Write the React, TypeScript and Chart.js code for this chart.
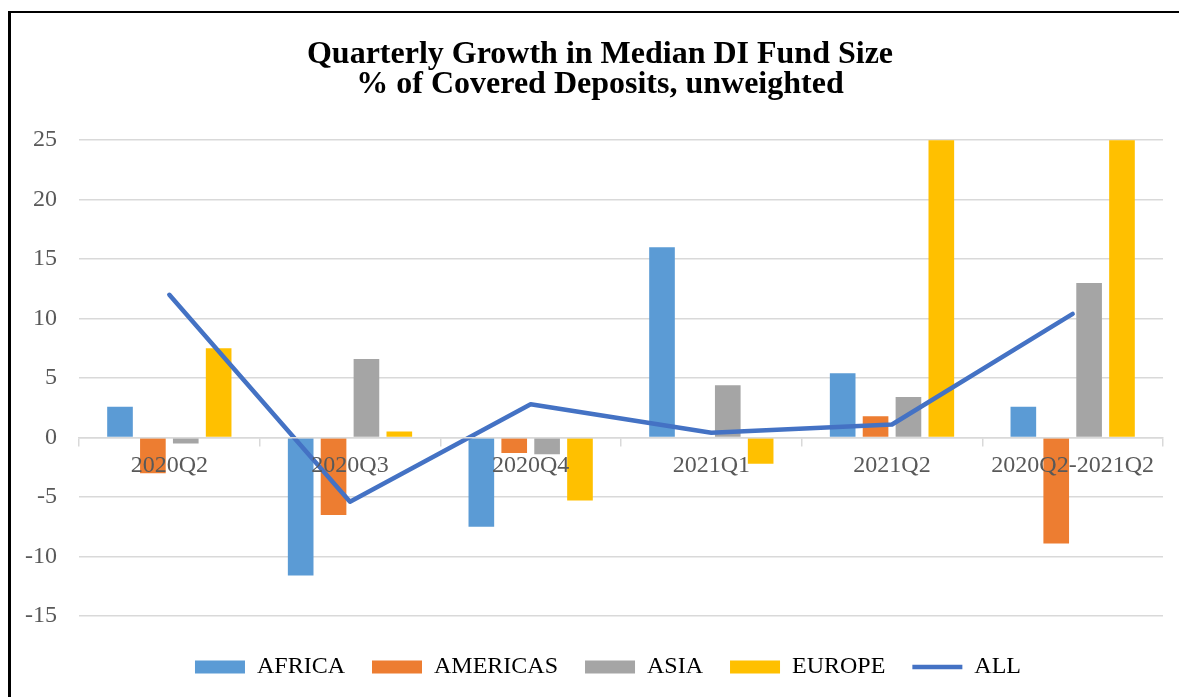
import React, { useEffect, useRef } from "react";
import { Chart, registerables } from "chart.js";

Chart.register(...registerables);

const categories = ["2020Q2", "2020Q3", "2020Q4", "2021Q1", "2021Q2", "2020Q2-2021Q2"];
const africa = [2.6, -11.6, -7.5, 16.0, 5.4, 2.6];
const americas = [-3.0, -6.5, -1.3, 0, 1.8, -8.9];
const asia = [-0.5, 6.6, -1.4, 4.4, 3.4, 13.0];
const europe = [7.5, 0.5, -5.3, -2.2, 31.0, 38.0];
const all = [12.0, -5.4, 2.8, 0.4, 1.1, 10.4];
const yTicks = [-15, -10, -5, 0, 5, 10, 15, 20, 25];
const titleLines = ["Quarterly Growth in Median DI Fund Size", "% of Covered Deposits, unweighted"];

const SERIF = "'Liberation Serif', 'Times New Roman', serif";
const Y_TICK_PAD = 22;

const shiftBoxes = {
  id: "shiftBoxes",
  afterLayout(chart: any) {
    if (chart.titleBlock) {
      chart.titleBlock.left += 6;
      chart.titleBlock.right += 6;
    }
    if (chart.legend) {
      chart.legend.left += 14;
      chart.legend.right += 14;
    }
  },
};

export default function App() {
  const ref = useRef<HTMLCanvasElement | null>(null);

  useEffect(() => {
    if (!ref.current) return;
    const barDs = (label: string, data: number[], color: string) => ({
      type: "bar" as const,
      label,
      data,
      backgroundColor: color,
      borderWidth: 0,
      pointStyle: "rect",
      order: 1,
      clip: 0,
    });
    const chart = new Chart(ref.current, {
      type: "bar",
      plugins: [shiftBoxes],
      data: {
        labels: categories,
        datasets: [
          barDs("AFRICA", africa, "#5B9BD5"),
          barDs("AMERICAS", americas, "#ED7D31"),
          barDs("ASIA", asia, "#A5A5A5"),
          barDs("EUROPE", europe, "#FFC000"),
          {
            type: "line" as const,
            label: "ALL",
            data: all,
            borderColor: "#4472C4",
            backgroundColor: "#4472C4",
            borderWidth: 4.5,
            borderCapStyle: "round",
            borderJoinStyle: "round",
            pointRadius: 0,
            pointHoverRadius: 0,
            pointStyle: "line",
            tension: 0,
            order: 0,
          } as any,
        ],
      },
      options: {
        animation: false,
        responsive: true,
        maintainAspectRatio: false,
        layout: { autoPadding: false, padding: { left: 14, right: 16, top: 0, bottom: 8 } },
        datasets: {
          bar: { categoryPercentage: 0.728, barPercentage: 0.78 },
        },
        scales: {
          x: {
            type: "category",
            position: { y: 0 } as any,
            grid: {
              offset: true,
              drawOnChartArea: false,
              drawTicks: true,
              tickLength: 8,
              color: "#d9d9d9",
              lineWidth: 1.5,
              z: 1,
            },
            border: { display: true, color: "#d9d9d9", width: 1.5, z: 1 },
            ticks: {
              autoSkip: false,
              maxRotation: 0,
              minRotation: 0,
              padding: 6,
              color: "#595959",
              font: { family: SERIF, size: 24 },
              z: 1,
            },
          },
          y: {
            type: "linear",
            min: -15,
            max: 25,
            afterBuildTicks: (axis: any) => {
              axis.ticks = yTicks.map((v) => ({ value: v }));
            },
            afterFit: (axis: any) => {
              axis.width = axis.width - Y_TICK_PAD;
            },
            grid: { color: "#d9d9d9", lineWidth: 1.5, drawTicks: false },
            border: { display: false },
            ticks: {
              padding: Y_TICK_PAD,
              color: "#595959",
              font: { family: SERIF, size: 24 },
            },
          },
        },
        plugins: {
          tooltip: { enabled: false },
          title: {
            display: true,
            text: titleLines,
            color: "#000",
            font: { family: SERIF, size: 32, weight: "bold", lineHeight: 0.94 },
            padding: { top: 27, bottom: 40 },
          },
          legend: {
            display: true,
            position: "bottom",
            title: { display: true, text: "", font: { size: 1, lineHeight: 1 }, padding: { top: 6, bottom: 5 } },
            labels: {
              usePointStyle: true,
              pointStyleWidth: 50,
              boxHeight: 13,
              padding: 27,
              color: "#000",
              font: { family: SERIF, size: 24 },
              sort: (a: any, b: any) => a.datasetIndex - b.datasetIndex,
            },
          },
        },
      } as any,
    });
    return () => chart.destroy();
  }, []);

  return (
    <div
      style={{
        position: "absolute",
        left: 8,
        top: 11,
        width: 1171,
        height: 686,
        boxSizing: "border-box",
        borderTop: "2px solid #000",
        borderLeft: "3px solid #000",
        background: "#fff",
      }}
    >
      <div style={{ position: "relative", width: "100%", height: "100%" }}>
        <canvas ref={ref} />
      </div>
    </div>
  );
}
